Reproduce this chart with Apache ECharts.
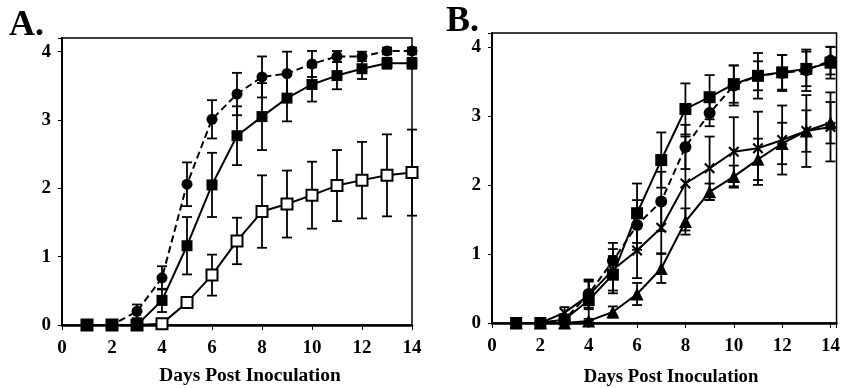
<!DOCTYPE html>
<html>
<head>
<meta charset="utf-8">
<script src="https://cdn.jsdelivr.net/npm/echarts@6/dist/echarts.min.js"></script>
<style>
html,body{margin:0;padding:0;background:#fff;}
#chart{width:843px;height:388px;}
</style>
</head>
<body>
<div id="chart"></div>
<script>
// ---------- data ----------
const days = [1,2,3,4,5,6,7,8,9,10,11,12,13,14];
const xTicks = [0,2,4,6,8,10,12,14];
const yTicks = [0,1,2,3,4];

// Panel A
const aCircleMean   = [0,0,0.20,0.69,2.06,3.01,3.38,3.63,3.68,3.82,3.93,3.93,4.01,4.01];
const aCircleErr    = [0,0,0.10,0.17,0.32,0.28,0.31,0.30,0.32,0.19,0.08,0.07,0.05,0.05];
const aFilledMean   = [0,0,0,0.36,1.16,2.05,2.77,3.05,3.32,3.52,3.65,3.75,3.83,3.83];
const aFilledErr    = [0,0,0,0.17,0.42,0.47,0.43,0.49,0.34,0.25,0.20,0.15,0.08,0.08];
const aOpenMean     = [0,0,0,0.02,0.33,0.73,1.23,1.66,1.77,1.90,2.04,2.12,2.19,2.23];
const aOpenErr      = [0,0,0,0,0.08,0.30,0.34,0.53,0.49,0.49,0.52,0.56,0.60,0.63];

// Panel B
const bSquareMean   = [0,0,0.05,0.33,0.70,1.59,2.36,3.10,3.27,3.46,3.58,3.63,3.68,3.77];
const bSquareErr    = [0,0,0.05,0.30,0.27,0.43,0.40,0.37,0.32,0.27,0.21,0.25,0.25,0.23];
const bCircleMean   = [0,0,0.05,0.42,0.90,1.42,1.76,2.55,3.04,3.44,3.58,3.62,3.66,3.80];
const bCircleErr    = [0,0,0.05,0.20,0.26,0.36,0.43,0.32,0.19,0.29,0.33,0.26,0.30,0.20];
const bCrossMean    = [0,0,0.15,0.40,0.77,1.05,1.38,2.02,2.24,2.48,2.53,2.65,2.78,2.84];
const bCrossErr     = [0,0,0.08,0.20,0.30,0.40,0.37,0.68,0.46,0.50,0.53,0.50,0.52,0.50];
const bTriMean      = [0,0,0,0.03,0.16,0.42,0.79,1.47,1.90,2.12,2.37,2.60,2.78,2.90];
const bTriErr       = [0,0,0,0.03,0.08,0.16,0.21,0.19,0.12,0.16,0.30,0.30,0.30,0.30];

// ---------- helpers ----------
const FONT = '"Liberation Serif", "DejaVu Serif", serif';
const crossPath = 'path://M0,1.4 L1.4,0 L5,3.6 L8.6,0 L10,1.4 L6.4,5 L10,8.6 L8.6,10 L5,6.4 L1.4,10 L0,8.6 L3.6,5 Z';

function pairs(mean){ return days.map((d,i)=>[d,mean[i]]); }
function errData(mean, err){
  const out=[];
  days.forEach((d,i)=>{ if(err[i]>0) out.push([d, mean[i]-err[i], mean[i]+err[i]]); });
  return out;
}
function errSeries(idx, mean, err){
  return {
    type:'custom', xAxisIndex:idx, yAxisIndex:idx, z:1, silent:true,
    data: errData(mean, err),
    renderItem: function(params, api){
      const x=api.value(0);
      const lo=api.coord([x, api.value(1)]);
      const hi=api.coord([x, api.value(2)]);
      const w=5;
      const st={stroke:'#000', lineWidth:1.8};
      return {type:'group', children:[
        {type:'line', shape:{x1:hi[0],y1:hi[1],x2:lo[0],y2:lo[1]}, style:st},
        {type:'line', shape:{x1:hi[0]-w,y1:hi[1],x2:hi[0]+w,y2:hi[1]}, style:st},
        {type:'line', shape:{x1:lo[0]-w,y1:lo[1],x2:lo[0]+w,y2:lo[1]}, style:st}
      ]};
    }
  };
}
function lineSeries(idx, mean, symbol, size, dashed, open){
  return {
    type:'line', xAxisIndex:idx, yAxisIndex:idx, z:3,
    data: pairs(mean),
    symbol: symbol, symbolSize: size, showAllSymbol:true,
    lineStyle:{color:'#000', width:2, type: dashed ? [7,4] : 'solid'},
    itemStyle: open ? {color:'#fff', borderColor:'#000', borderWidth:2}
                    : {color:'#000', borderColor:'#000', borderWidth:0},
    emphasis:{disabled:true}, animation:false
  };
}
function xAxis(idx, max){
  return {
    type:'value', gridIndex:idx, min:0, max:max, interval:2,
    axisLine:{show:true, lineStyle:{color:'#000', width:2.5}},
    axisTick:{show:true, inside:false, length:5, lineStyle:{color:'#000', width:1}},
    splitLine:{show:false},
    axisLabel:{color:'#000', fontFamily:FONT, fontWeight:'bold', fontSize:19, margin:14,
      formatter: v => (xTicks.indexOf(v) >= 0 ? String(v) : '')}
  };
}
function yAxis(idx){
  return {
    type:'value', gridIndex:idx, min:0, max:4.2, interval:1,
    axisLine:{show:true, lineStyle:{color:'#000', width:2}},
    axisTick:{show:true, inside:false, length:4, lineStyle:{color:'#000', width:1}},
    splitLine:{show:false},
    axisLabel:{color:'#000', fontFamily:FONT, fontWeight:'bold', fontSize:19, margin:11,
      formatter: v => (yTicks.indexOf(v) >= 0 ? String(v) : '')}
  };
}

const chart = echarts.init(document.getElementById('chart'), null, {renderer:'canvas'});
chart.setOption({
  animation:false,
  backgroundColor:'#fff',
  grid:[
    {left:62, top:38, width:350, height:287, show:true, borderColor:'#000', borderWidth:1.5, backgroundColor:'transparent'},
    {left:492, top:33, width:348, height:290, show:true, borderColor:'#000', borderWidth:1.5, backgroundColor:'transparent'}
  ],
  xAxis:[xAxis(0,14), xAxis(1,14.25)],
  yAxis:[yAxis(0), yAxis(1)],
  graphic:[
    {type:'text', left:9, top:8, style:{text:'A.', font:'bold 36px '+FONT, fill:'#000'}},
    {type:'text', left:446, top:4, style:{text:'B.', font:'bold 36px '+FONT, fill:'#000'}},
    {type:'text', x:250, y:376, scaleX:1.08, style:{text:'Days Post Inoculation', font:'bold 18px '+FONT, fill:'#000', align:'center', verticalAlign:'middle'}},
    {type:'text', x:671, y:377, scaleX:1.04, style:{text:'Days Post Inoculation', font:'bold 18px '+FONT, fill:'#000', align:'center', verticalAlign:'middle'}}
  ],
  series:[
    errSeries(0, aOpenMean, aOpenErr),
    errSeries(0, aFilledMean, aFilledErr),
    errSeries(0, aCircleMean, aCircleErr),
    lineSeries(0, aOpenMean, 'rect', 11, false, true),
    lineSeries(0, aFilledMean, 'rect', 11, false, false),
    lineSeries(0, aCircleMean, 'circle', 11, true, false),

    errSeries(1, bTriMean, bTriErr),
    errSeries(1, bCrossMean, bCrossErr),
    errSeries(1, bCircleMean, bCircleErr),
    errSeries(1, bSquareMean, bSquareErr),
    lineSeries(1, bTriMean, 'triangle', 13, false, false),
    lineSeries(1, bCrossMean, crossPath, 11, false, false),
    lineSeries(1, bCircleMean, 'circle', 12, true, false),
    lineSeries(1, bSquareMean, 'rect', 12, false, false)
  ]
});
</script>
</body>
</html>
